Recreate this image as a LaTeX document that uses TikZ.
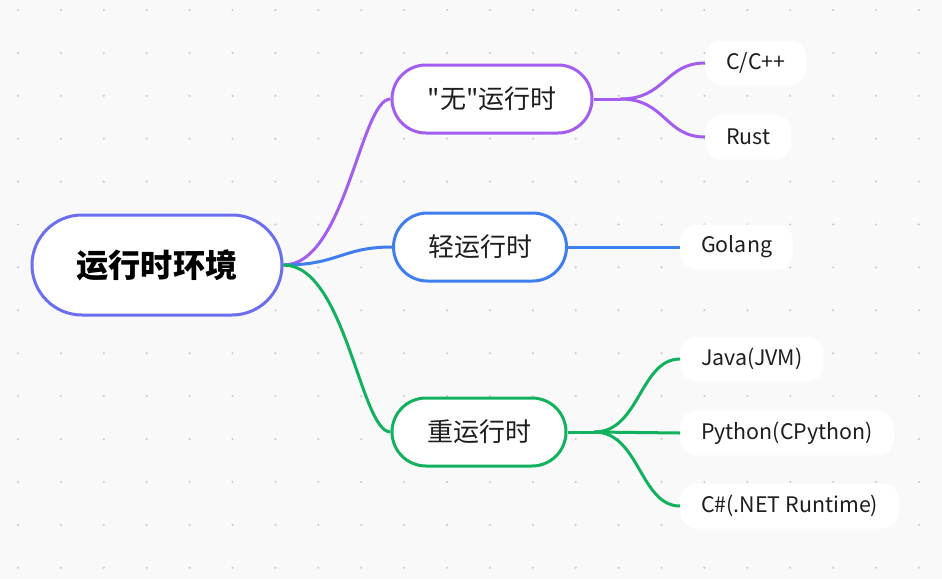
\documentclass[tikz,border=0pt]{standalone}
\usepackage{fontspec}
\setmainfont{Noto Sans CJK SC}
\newcommand{\plainquote}{\XeTeXglyph\XeTeXcharglyph"22\relax}
\definecolor{bgcol}{HTML}{F9F9F9}
\definecolor{dotcol}{HTML}{CDCDCD}
\definecolor{txtcol}{HTML}{1E1E1E}
\definecolor{rootcol}{HTML}{6B6EEF}
\definecolor{wucol}{HTML}{A45EEF}
\definecolor{qingcol}{HTML}{3E7EEF}
\definecolor{zhongcol}{HTML}{12B15E}
\begin{document}
\begin{tikzpicture}[x=1pt,y=-1pt,
	conn/.style={line width=3pt},
	pill/.style={draw,line width=3pt,fill=white,rounded corners=34pt,
		minimum height=68pt,inner xsep=0pt,text=txtcol,
		font=\fontsize{26}{30}\selectfont},
	leaf/.style={fill=white,rounded corners=17pt,minimum height=45pt,
		inner xsep=21pt,anchor=west,text=txtcol,
		font=\fontsize{21.4}{25}\selectfont}]
	\fill[bgcol] (0,0) rectangle (942,579);
	\foreach \i in {0,...,21}
		\foreach \j in {0,...,13}
			\fill[dotcol] (18+42.9*\i,10+42.9*\j) circle (1.2pt);
	
	\node[pill,draw=rootcol,minimum width=250pt,minimum height=100pt,
		rounded corners=50pt,text=black,
		font=\fontsize{32.2}{37}\selectfont\bfseries] (root) at (157,265) {运行时环境};
	\node[pill,draw=wucol,minimum width=200pt] (wu) at (492,99) {\plainquote 无\plainquote 运行时};
	\node[pill,draw=qingcol,minimum width=173pt] (qing) at (480,247) {轻运行时};
	\node[pill,draw=zhongcol,minimum width=174pt] (zhong) at (479,432) {重运行时};
	
	\node[leaf] (cpp) at (705,63) {C/C++};
	\node[leaf] (rust) at (705,137) {Rust};
	\node[leaf] (golang) at (680,247) {Golang};
	\node[leaf] (java) at (680,359) {Java(JVM)};
	\node[leaf] (python) at (680,433) {Python(CPython)};
	\node[leaf] (csharp) at (680,506) {C\#(.NET Runtime)};
	
	% root to branches
	\draw[conn,wucol] (root.east) .. controls +(62,0) and +(-30,0) .. (wu.west);
	\draw[conn,qingcol] (root.east) .. controls +(55,0) and +(-50,0) .. (qing.west);
	\draw[conn,zhongcol] (root.east) .. controls +(62,0) and +(-30,0) .. (zhong.west);
	
	% branches to leaves
	\draw[conn,wucol] (wu.east) -- ++(27,0) coordinate (wusplit);
	\draw[conn,wucol] (wusplit) .. controls +(45,0) and +(-40,0) .. (cpp.west);
	\draw[conn,wucol] (wusplit) .. controls +(45,0) and +(-40,0) .. (rust.west);
	\draw[conn,qingcol] (qing.east) -- (golang.west);
	\draw[conn,zhongcol] (zhong.east) -- ++(27,0) coordinate (zhongsplit);
	\draw[conn,zhongcol] (zhongsplit) .. controls +(45,0) and +(-40,0) .. (java.west);
	\draw[conn,zhongcol] (zhongsplit) -- (python.west);
	\draw[conn,zhongcol] (zhongsplit) .. controls +(45,0) and +(-40,0) .. (csharp.west);
\end{tikzpicture}
\end{document}
